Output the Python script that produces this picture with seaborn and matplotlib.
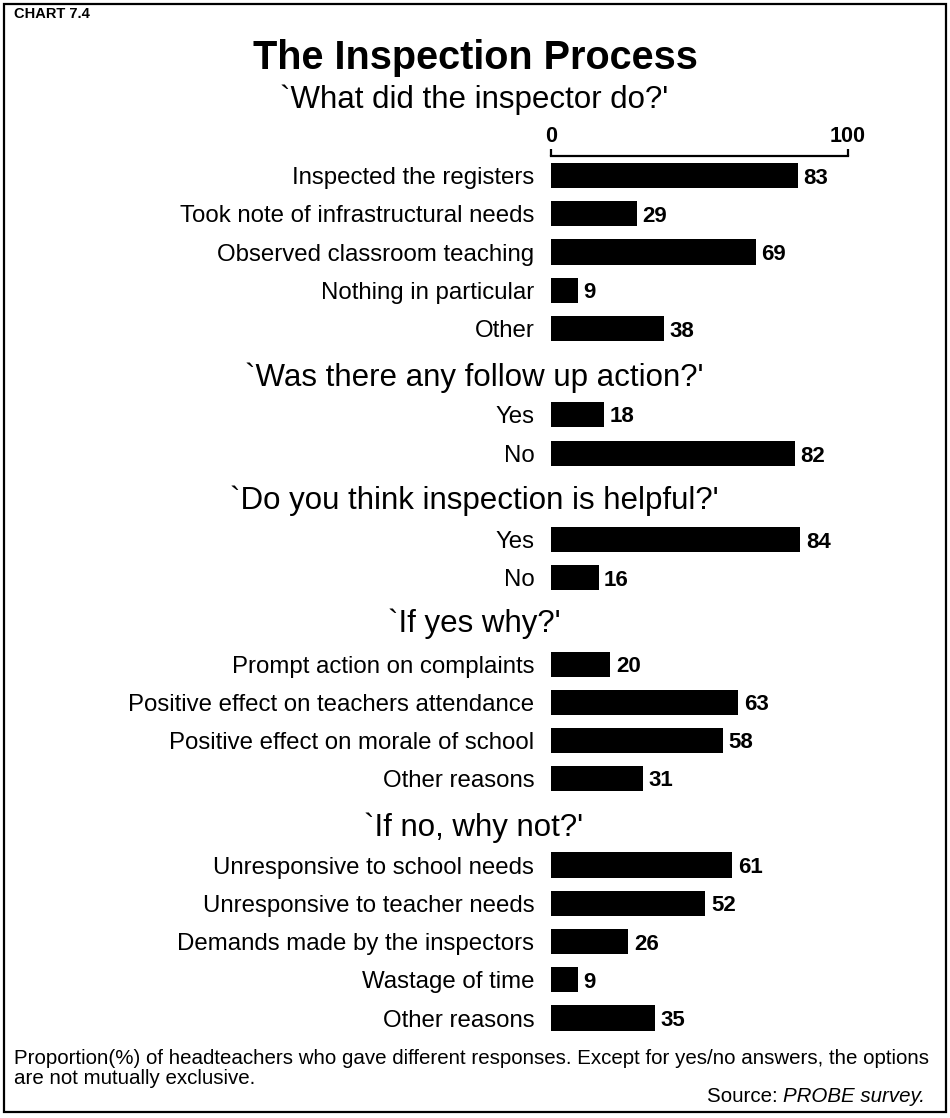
import matplotlib
matplotlib.use("Agg")
import matplotlib.pyplot as plt
import seaborn as sns
import pandas as pd
from matplotlib.patches import Rectangle

# ---------------- data ----------------
chart_label = "CHART 7.4"
title = "The Inspection Process"

q1_title = "`What did the inspector do?'"
q1_labels = ["Inspected the registers", "Took note of infrastructural needs",
             "Observed classroom teaching", "Nothing in particular", "Other"]
q1_values = [83, 29, 69, 9, 38]

q2_title = "`Was there any follow up action?'"
q2_labels = ["Yes", "No"]
q2_values = [18, 82]

q3_title = "`Do you think inspection is helpful?'"
q3_labels = ["Yes", "No"]
q3_values = [84, 16]

q4_title = "`If yes why?'"
q4_labels = ["Prompt action on complaints", "Positive effect on teachers attendance",
             "Positive effect on morale of school", "Other reasons"]
q4_values = [20, 63, 58, 31]

q5_title = "`If no, why not?'"
q5_labels = ["Unresponsive to school needs", "Unresponsive to teacher needs",
             "Demands made by the inspectors", "Wastage of time", "Other reasons"]
q5_values = [61, 52, 26, 9, 35]

axis_ticks = [0, 100]

footer_line1 = ("Proportion(%) of headteachers who gave different responses. "
                "Except for yes/no answers, the options")
footer_line2 = "are not mutually exclusive."
source_prefix = "Source: "
source_name = "PROBE survey."

sections = [
    (q1_title, q1_labels, q1_values),
    (q2_title, q2_labels, q2_values),
    (q3_title, q3_labels, q3_values),
    (q4_title, q4_labels, q4_values),
    (q5_title, q5_labels, q5_values),
]

# ---------------- layout ----------------
W, H = 950, 1118
sec_title_y = [100, 378, 501, 624, 828]
axes_top = [156.4, 395, 520.5, 645.5, 845.9]
row_h = [38.25, 39, 38, 38, 38.25]
x0_px, x1_px = 551, 848

sns.set_style("white")
plt.rcParams["font.family"] = ["Liberation Sans", "DejaVu Sans"]
plt.rcParams["text.color"] = "black"
plt.rcParams["xtick.color"] = "black"
plt.rcParams["ytick.color"] = "black"
plt.rcParams["axes.labelcolor"] = "black"

fig = plt.figure(figsize=(W / 100, H / 100), dpi=100)
fig.patch.set_facecolor("white")


def fy(y):
    return 1 - y / H


LABEL_FS = 17.3
VALUE_FS = 16
SEC_FS = 22.5
TITLE_FS = 28.5
FOOT_FS = 14.8

fig.text(14 / W, fy(7), chart_label, ha="left", va="top",
         fontsize=10.5, fontweight="bold")
fig.text(475 / W, fy(58), title, ha="center", va="center",
         fontsize=TITLE_FS, fontweight="bold")

for i, (stitle, labels, values) in enumerate(sections):
    fig.text(474 / W, fy(sec_title_y[i]), stitle, ha="center", va="center",
             fontsize=SEC_FS)
    n = len(labels)
    top = axes_top[i]
    h = n * row_h[i]
    ax = fig.add_axes([x0_px / W, fy(top + h), (x1_px - x0_px) / W, h / H])
    df = pd.DataFrame({"label": labels, "value": values})
    sns.barplot(data=df, x="value", y="label", color="black", saturation=1,
                width=0.655, linewidth=0, ax=ax)
    ax.set_xlim(0, 100)
    ax.set_ylim(n - 0.5, -0.5)
    ax.set_xlabel("")
    ax.set_ylabel("")
    ax.set_facecolor("none")
    texts = ax.bar_label(ax.containers[0], padding=4, fontsize=VALUE_FS,
                         fontweight="bold")
    for t in texts:
        t.set_verticalalignment("center_baseline")
    ax.tick_params(axis="y", length=0, pad=12, labelsize=LABEL_FS)
    for s in ["left", "right", "bottom"]:
        ax.spines[s].set_visible(False)
    if i == 0:
        ax.spines["top"].set_visible(True)
        ax.spines["top"].set_linewidth(1.6)
        ax.spines["top"].set_color("black")
        ax.xaxis.tick_top()
        ax.set_xticks(axis_ticks)
        ax.set_xticklabels([str(t) for t in axis_ticks], fontweight="bold")
        ax.tick_params(axis="x", direction="out", length=5, width=1.6,
                       pad=2, labelsize=15.5, colors="black")
    else:
        ax.spines["top"].set_visible(False)
        ax.set_xticks([])

# footer
fig.text(14 / W, fy(1058), footer_line1, ha="left", va="center",
         fontsize=FOOT_FS)
fig.text(14 / W, fy(1079), footer_line2, ha="left", va="center",
         fontsize=FOOT_FS)
t_src = fig.text(925 / W, fy(1096), source_name, ha="right", va="center",
                 fontsize=FOOT_FS, style="italic")
renderer = fig.canvas.get_renderer()
bb = t_src.get_window_extent(renderer=renderer)
fig.text(bb.x0 / W, fy(1096), source_prefix, ha="right", va="center",
         fontsize=FOOT_FS)

# frame
fig.patches.append(Rectangle((4 / W, fy(1112)), 942 / W, 1108 / H,
                             transform=fig.transFigure, fill=False,
                             edgecolor="black", linewidth=1.6))

fig.savefig("out.png", dpi=100)
